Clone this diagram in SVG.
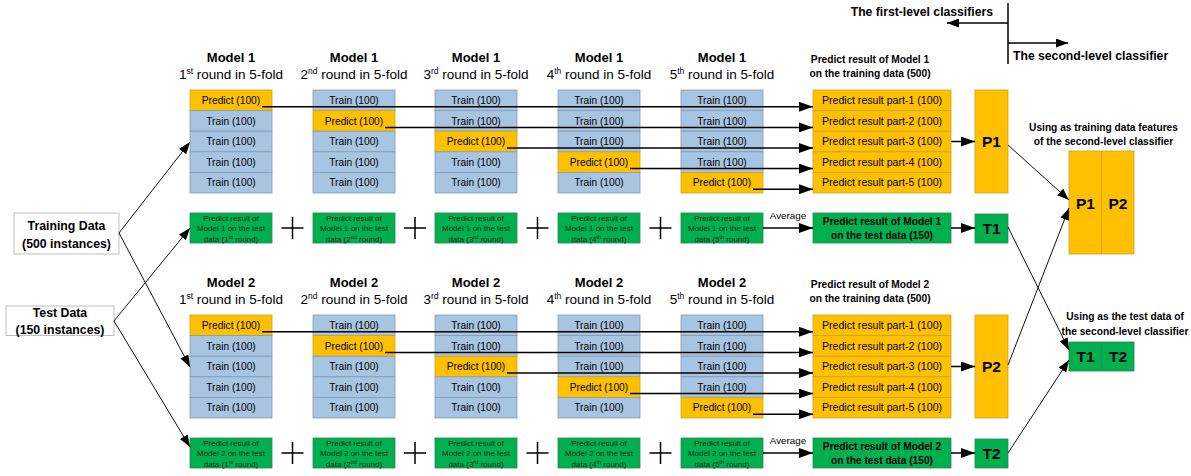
<svg xmlns="http://www.w3.org/2000/svg" width="1191" height="476" viewBox="0 0 1191 476">
<style>
text{font-family:"Liberation Sans",Arial,sans-serif;fill:#000}
.hd{font-size:13px;font-weight:bold;text-anchor:middle}
.sub{font-size:13.5px;text-anchor:middle}
.cell{font-size:10.2px;text-anchor:middle}
.res{font-size:10.6px;text-anchor:middle}
.gs{font-size:8px;text-anchor:middle;fill:#0b2a14}
.bl{font-size:10.2px;font-weight:bold;text-anchor:middle}
.big{font-size:15.5px;font-weight:bold;text-anchor:middle}
.data{font-size:12.3px;font-weight:bold;text-anchor:middle}
.leg{font-size:12.2px;font-weight:bold}
.tr{fill:#A7C4E0;stroke:#8599B2;stroke-width:0.8}
.pr{fill:#FFC000;stroke:#C9A227;stroke-width:0.8}
.gr{fill:#00B050;stroke:#2A8A4A;stroke-width:0.8}
.db{fill:#fff;stroke:#BFBFBF;stroke-width:1}
.ln{stroke:#000;stroke-width:1.5;fill:none}
.th{stroke:#111;stroke-width:1;fill:none}
</style>
<defs>
<marker id="ab" markerUnits="userSpaceOnUse" markerWidth="15" markerHeight="10" refX="14" refY="5" orient="auto"><path d="M0,0 L14,5 L0,10 z" fill="#000"/></marker>
<marker id="as" markerUnits="userSpaceOnUse" markerWidth="13" markerHeight="9" refX="12" refY="4.5" orient="auto"><path d="M0,0 L12,4.5 L0,9 z" fill="#000"/></marker>
</defs>

<g id="legend">
<text class="leg" x="993" y="15.5" text-anchor="end">The first-level classifiers</text>
<text class="leg" x="1013" y="60">The second-level classifier</text>
</g>

<g id="training-data"><rect class="db" x="14" y="213" width="105" height="41"/><text class="data" x="66.5" y="229.5">Training Data</text><text class="data" x="66.5" y="247.5">(500 instances)</text></g>
<g id="test-data"><rect class="db" x="6" y="306" width="108" height="29.5"/><text class="data" x="60" y="316.5">Test Data</text><text class="data" x="60" y="334">(150 instances)</text></g>

<g id="model1-section">
<g id="m1-fold1"><text class="hd" x="231" y="61.5">Model 1</text><text class="sub" x="231" y="79">1<tspan font-size="8.5" dy="-5">st</tspan><tspan dy="5"> round in 5-fold</tspan></text>
<rect class="pr" x="190" y="90" width="82" height="20.6"/><text class="cell" x="231" y="104">Predict (100)</text>
<rect class="tr" x="190" y="110.6" width="82" height="20.6"/><text class="cell" x="231" y="124.6">Train (100)</text>
<rect class="tr" x="190" y="131.2" width="82" height="20.6"/><text class="cell" x="231" y="145.2">Train (100)</text>
<rect class="tr" x="190" y="151.8" width="82" height="20.6"/><text class="cell" x="231" y="165.8">Train (100)</text>
<rect class="tr" x="190" y="172.4" width="82" height="20.6"/><text class="cell" x="231" y="186.4">Train (100)</text></g>
<g id="m1-fold2"><text class="hd" x="354" y="61.5">Model 1</text><text class="sub" x="354" y="79">2<tspan font-size="8.5" dy="-5">nd</tspan><tspan dy="5"> round in 5-fold</tspan></text>
<rect class="tr" x="313" y="90" width="82" height="20.6"/><text class="cell" x="354" y="104">Train (100)</text>
<rect class="pr" x="313" y="110.6" width="82" height="20.6"/><text class="cell" x="354" y="124.6">Predict (100)</text>
<rect class="tr" x="313" y="131.2" width="82" height="20.6"/><text class="cell" x="354" y="145.2">Train (100)</text>
<rect class="tr" x="313" y="151.8" width="82" height="20.6"/><text class="cell" x="354" y="165.8">Train (100)</text>
<rect class="tr" x="313" y="172.4" width="82" height="20.6"/><text class="cell" x="354" y="186.4">Train (100)</text></g>
<g id="m1-fold3"><text class="hd" x="476" y="61.5">Model 1</text><text class="sub" x="476" y="79">3<tspan font-size="8.5" dy="-5">rd</tspan><tspan dy="5"> round in 5-fold</tspan></text>
<rect class="tr" x="435" y="90" width="82" height="20.6"/><text class="cell" x="476" y="104">Train (100)</text>
<rect class="tr" x="435" y="110.6" width="82" height="20.6"/><text class="cell" x="476" y="124.6">Train (100)</text>
<rect class="pr" x="435" y="131.2" width="82" height="20.6"/><text class="cell" x="476" y="145.2">Predict (100)</text>
<rect class="tr" x="435" y="151.8" width="82" height="20.6"/><text class="cell" x="476" y="165.8">Train (100)</text>
<rect class="tr" x="435" y="172.4" width="82" height="20.6"/><text class="cell" x="476" y="186.4">Train (100)</text></g>
<g id="m1-fold4"><text class="hd" x="599" y="61.5">Model 1</text><text class="sub" x="599" y="79">4<tspan font-size="8.5" dy="-5">th</tspan><tspan dy="5"> round in 5-fold</tspan></text>
<rect class="tr" x="558" y="90" width="82" height="20.6"/><text class="cell" x="599" y="104">Train (100)</text>
<rect class="tr" x="558" y="110.6" width="82" height="20.6"/><text class="cell" x="599" y="124.6">Train (100)</text>
<rect class="tr" x="558" y="131.2" width="82" height="20.6"/><text class="cell" x="599" y="145.2">Train (100)</text>
<rect class="pr" x="558" y="151.8" width="82" height="20.6"/><text class="cell" x="599" y="165.8">Predict (100)</text>
<rect class="tr" x="558" y="172.4" width="82" height="20.6"/><text class="cell" x="599" y="186.4">Train (100)</text></g>
<g id="m1-fold5"><text class="hd" x="722" y="61.5">Model 1</text><text class="sub" x="722" y="79">5<tspan font-size="8.5" dy="-5">th</tspan><tspan dy="5"> round in 5-fold</tspan></text>
<rect class="tr" x="681" y="90" width="82" height="20.6"/><text class="cell" x="722" y="104">Train (100)</text>
<rect class="tr" x="681" y="110.6" width="82" height="20.6"/><text class="cell" x="722" y="124.6">Train (100)</text>
<rect class="tr" x="681" y="131.2" width="82" height="20.6"/><text class="cell" x="722" y="145.2">Train (100)</text>
<rect class="tr" x="681" y="151.8" width="82" height="20.6"/><text class="cell" x="722" y="165.8">Train (100)</text>
<rect class="pr" x="681" y="172.4" width="82" height="20.6"/><text class="cell" x="722" y="186.4">Predict (100)</text></g>

<g id="m1-train-result"><text class="bl" x="870" y="63">Predict result of Model 1</text><text class="bl" x="870" y="77">on the training data (500)</text>
<rect class="pr" x="813" y="90" width="138" height="20.6"/><text class="res" x="882" y="104">Predict result part-1 (100)</text>
<rect class="pr" x="813" y="110.6" width="138" height="20.6"/><text class="res" x="882" y="124.6">Predict result part-2 (100)</text>
<rect class="pr" x="813" y="131.2" width="138" height="20.6"/><text class="res" x="882" y="145.2">Predict result part-3 (100)</text>
<rect class="pr" x="813" y="151.8" width="138" height="20.6"/><text class="res" x="882" y="165.8">Predict result part-4 (100)</text>
<rect class="pr" x="813" y="172.4" width="138" height="20.6"/><text class="res" x="882" y="186.4">Predict result part-5 (100)</text></g>
<g id="P1"><rect class="pr" x="975" y="90" width="33" height="103"/><text class="big" x="991.5" y="147">P1</text></g>

<g id="m1-test1"><rect class="gr" x="190" y="213" width="82" height="30"/><text class="gs" x="231" y="221">Predict result of</text><text class="gs" x="231" y="231.3">Model 1 on the test</text><text class="gs" x="231" y="241.5">data (1<tspan font-size="5.5" dy="-3">st</tspan><tspan dy="3"> round)</tspan></text></g>
<g id="m1-test2"><rect class="gr" x="313" y="213" width="82" height="30"/><text class="gs" x="354" y="221">Predict result of</text><text class="gs" x="354" y="231.3">Model 1 on the test</text><text class="gs" x="354" y="241.5">data (2<tspan font-size="5.5" dy="-3">nd</tspan><tspan dy="3"> round)</tspan></text></g>
<g id="m1-test3"><rect class="gr" x="435" y="213" width="82" height="30"/><text class="gs" x="476" y="221">Predict result of</text><text class="gs" x="476" y="231.3">Model 1 on the test</text><text class="gs" x="476" y="241.5">data (3<tspan font-size="5.5" dy="-3">rd</tspan><tspan dy="3"> round)</tspan></text></g>
<g id="m1-test4"><rect class="gr" x="558" y="213" width="82" height="30"/><text class="gs" x="599" y="221">Predict result of</text><text class="gs" x="599" y="231.3">Model 1 on the test</text><text class="gs" x="599" y="241.5">data (4<tspan font-size="5.5" dy="-3">th</tspan><tspan dy="3"> round)</tspan></text></g>
<g id="m1-test5"><rect class="gr" x="681" y="213" width="82" height="30"/><text class="gs" x="722" y="221">Predict result of</text><text class="gs" x="722" y="231.3">Model 1 on the test</text><text class="gs" x="722" y="241.5">data (5<tspan font-size="5.5" dy="-3">th</tspan><tspan dy="3"> round)</tspan></text></g>
<g id="m1-test-result"><rect class="gr" x="813" y="213" width="138" height="30"/><text class="bl" x="882" y="225">Predict result of Model 1</text><text class="bl" x="882" y="239">on the test data (150)</text></g>
<g id="T1"><rect class="gr" x="975" y="214" width="33" height="29"/><text class="big" x="991.5" y="234">T1</text></g>
<g id="m1-plus" class="ln"><path d="M281.5,228h22M292.5,217v22M404,228h22M415,217v22M526.5,228h22M537.5,217v22M649.5,228h22M660.5,217v22"/></g>
</g>

<g id="model2-section" transform="translate(0,225)">
<g id="m2-fold1"><text class="hd" x="231" y="61.5">Model 2</text><text class="sub" x="231" y="79">1<tspan font-size="8.5" dy="-5">st</tspan><tspan dy="5"> round in 5-fold</tspan></text>
<rect class="pr" x="190" y="90" width="82" height="20.6"/><text class="cell" x="231" y="104">Predict (100)</text>
<rect class="tr" x="190" y="110.6" width="82" height="20.6"/><text class="cell" x="231" y="124.6">Train (100)</text>
<rect class="tr" x="190" y="131.2" width="82" height="20.6"/><text class="cell" x="231" y="145.2">Train (100)</text>
<rect class="tr" x="190" y="151.8" width="82" height="20.6"/><text class="cell" x="231" y="165.8">Train (100)</text>
<rect class="tr" x="190" y="172.4" width="82" height="20.6"/><text class="cell" x="231" y="186.4">Train (100)</text></g>
<g id="m2-fold2"><text class="hd" x="354" y="61.5">Model 2</text><text class="sub" x="354" y="79">2<tspan font-size="8.5" dy="-5">nd</tspan><tspan dy="5"> round in 5-fold</tspan></text>
<rect class="tr" x="313" y="90" width="82" height="20.6"/><text class="cell" x="354" y="104">Train (100)</text>
<rect class="pr" x="313" y="110.6" width="82" height="20.6"/><text class="cell" x="354" y="124.6">Predict (100)</text>
<rect class="tr" x="313" y="131.2" width="82" height="20.6"/><text class="cell" x="354" y="145.2">Train (100)</text>
<rect class="tr" x="313" y="151.8" width="82" height="20.6"/><text class="cell" x="354" y="165.8">Train (100)</text>
<rect class="tr" x="313" y="172.4" width="82" height="20.6"/><text class="cell" x="354" y="186.4">Train (100)</text></g>
<g id="m2-fold3"><text class="hd" x="476" y="61.5">Model 2</text><text class="sub" x="476" y="79">3<tspan font-size="8.5" dy="-5">rd</tspan><tspan dy="5"> round in 5-fold</tspan></text>
<rect class="tr" x="435" y="90" width="82" height="20.6"/><text class="cell" x="476" y="104">Train (100)</text>
<rect class="tr" x="435" y="110.6" width="82" height="20.6"/><text class="cell" x="476" y="124.6">Train (100)</text>
<rect class="pr" x="435" y="131.2" width="82" height="20.6"/><text class="cell" x="476" y="145.2">Predict (100)</text>
<rect class="tr" x="435" y="151.8" width="82" height="20.6"/><text class="cell" x="476" y="165.8">Train (100)</text>
<rect class="tr" x="435" y="172.4" width="82" height="20.6"/><text class="cell" x="476" y="186.4">Train (100)</text></g>
<g id="m2-fold4"><text class="hd" x="599" y="61.5">Model 2</text><text class="sub" x="599" y="79">4<tspan font-size="8.5" dy="-5">th</tspan><tspan dy="5"> round in 5-fold</tspan></text>
<rect class="tr" x="558" y="90" width="82" height="20.6"/><text class="cell" x="599" y="104">Train (100)</text>
<rect class="tr" x="558" y="110.6" width="82" height="20.6"/><text class="cell" x="599" y="124.6">Train (100)</text>
<rect class="tr" x="558" y="131.2" width="82" height="20.6"/><text class="cell" x="599" y="145.2">Train (100)</text>
<rect class="pr" x="558" y="151.8" width="82" height="20.6"/><text class="cell" x="599" y="165.8">Predict (100)</text>
<rect class="tr" x="558" y="172.4" width="82" height="20.6"/><text class="cell" x="599" y="186.4">Train (100)</text></g>
<g id="m2-fold5"><text class="hd" x="722" y="61.5">Model 2</text><text class="sub" x="722" y="79">5<tspan font-size="8.5" dy="-5">th</tspan><tspan dy="5"> round in 5-fold</tspan></text>
<rect class="tr" x="681" y="90" width="82" height="20.6"/><text class="cell" x="722" y="104">Train (100)</text>
<rect class="tr" x="681" y="110.6" width="82" height="20.6"/><text class="cell" x="722" y="124.6">Train (100)</text>
<rect class="tr" x="681" y="131.2" width="82" height="20.6"/><text class="cell" x="722" y="145.2">Train (100)</text>
<rect class="tr" x="681" y="151.8" width="82" height="20.6"/><text class="cell" x="722" y="165.8">Train (100)</text>
<rect class="pr" x="681" y="172.4" width="82" height="20.6"/><text class="cell" x="722" y="186.4">Predict (100)</text></g>

<g id="m2-train-result"><text class="bl" x="870" y="63">Predict result of Model 2</text><text class="bl" x="870" y="77">on the training data (500)</text>
<rect class="pr" x="813" y="90" width="138" height="20.6"/><text class="res" x="882" y="104">Predict result part-1 (100)</text>
<rect class="pr" x="813" y="110.6" width="138" height="20.6"/><text class="res" x="882" y="124.6">Predict result part-2 (100)</text>
<rect class="pr" x="813" y="131.2" width="138" height="20.6"/><text class="res" x="882" y="145.2">Predict result part-3 (100)</text>
<rect class="pr" x="813" y="151.8" width="138" height="20.6"/><text class="res" x="882" y="165.8">Predict result part-4 (100)</text>
<rect class="pr" x="813" y="172.4" width="138" height="20.6"/><text class="res" x="882" y="186.4">Predict result part-5 (100)</text></g>
<g id="P2"><rect class="pr" x="975" y="90" width="33" height="103"/><text class="big" x="991.5" y="147">P2</text></g>

<g id="m2-test1"><rect class="gr" x="190" y="213" width="82" height="30"/><text class="gs" x="231" y="221">Predict result of</text><text class="gs" x="231" y="231.3">Model 2 on the test</text><text class="gs" x="231" y="241.5">data (1<tspan font-size="5.5" dy="-3">st</tspan><tspan dy="3"> round)</tspan></text></g>
<g id="m2-test2"><rect class="gr" x="313" y="213" width="82" height="30"/><text class="gs" x="354" y="221">Predict result of</text><text class="gs" x="354" y="231.3">Model 2 on the test</text><text class="gs" x="354" y="241.5">data (2<tspan font-size="5.5" dy="-3">nd</tspan><tspan dy="3"> round)</tspan></text></g>
<g id="m2-test3"><rect class="gr" x="435" y="213" width="82" height="30"/><text class="gs" x="476" y="221">Predict result of</text><text class="gs" x="476" y="231.3">Model 2 on the test</text><text class="gs" x="476" y="241.5">data (3<tspan font-size="5.5" dy="-3">rd</tspan><tspan dy="3"> round)</tspan></text></g>
<g id="m2-test4"><rect class="gr" x="558" y="213" width="82" height="30"/><text class="gs" x="599" y="221">Predict result of</text><text class="gs" x="599" y="231.3">Model 2 on the test</text><text class="gs" x="599" y="241.5">data (4<tspan font-size="5.5" dy="-3">th</tspan><tspan dy="3"> round)</tspan></text></g>
<g id="m2-test5"><rect class="gr" x="681" y="213" width="82" height="30"/><text class="gs" x="722" y="221">Predict result of</text><text class="gs" x="722" y="231.3">Model 2 on the test</text><text class="gs" x="722" y="241.5">data (5<tspan font-size="5.5" dy="-3">th</tspan><tspan dy="3"> round)</tspan></text></g>
<g id="m2-test-result"><rect class="gr" x="813" y="213" width="138" height="30"/><text class="bl" x="882" y="225">Predict result of Model 2</text><text class="bl" x="882" y="239">on the test data (150)</text></g>
<g id="T2"><rect class="gr" x="975" y="214" width="33" height="29"/><text class="big" x="991.5" y="234">T2</text></g>
<g id="m2-plus" class="ln"><path d="M281.5,228h22M292.5,217v22M404,228h22M415,217v22M526.5,228h22M537.5,217v22M649.5,228h22M660.5,217v22"/></g>
</g>

<g id="second-level-train"><text class="bl" x="1103.5" y="131">Using as training data features</text><text class="bl" x="1103.5" y="145">of the second-level classifier</text>
<rect class="pr" x="1069" y="151" width="65" height="103"/><line x1="1101.5" y1="151" x2="1101.5" y2="254" stroke="#C9A227" stroke-width="0.8"/>
<text class="big" x="1085.5" y="209">P1</text><text class="big" x="1118" y="209">P2</text></g>
<g id="second-level-test"><text class="bl" x="1125" y="320">Using as the test data of</text><text class="bl" x="1125" y="334.5">the second-level classifier</text>
<rect class="gr" x="1069" y="342" width="65" height="29"/><line x1="1101.5" y1="342" x2="1101.5" y2="371" stroke="#2A8A4A" stroke-width="0.8"/>
<text class="big" x="1085.5" y="362">T1</text><text class="big" x="1118" y="362">T2</text></g>

<g id="connectors">
<path class="ln" d="M1008,3V64" stroke-width="2"/>
<path class="ln" d="M1008,23H947" marker-end="url(#as)"/>
<path class="ln" d="M1008,43H1068" marker-end="url(#as)"/>
<path class="th" d="M119,233L190,142" marker-end="url(#as)"/>
<path class="th" d="M119,233L190,367" marker-end="url(#as)"/>
<path class="th" d="M114,321L190,228" marker-end="url(#as)"/>
<path class="th" d="M114,321L190,447" marker-end="url(#as)"/>
<path class="ln" d="M262,106.8H813" marker-end="url(#ab)"/>
<path class="ln" d="M385,127.4H813" marker-end="url(#ab)"/>
<path class="ln" d="M507,148H813" marker-end="url(#ab)"/>
<path class="ln" d="M630,168.6H813" marker-end="url(#ab)"/>
<path class="ln" d="M753,189.2H813" marker-end="url(#ab)"/>
<path class="ln" d="M262,331.8H813" marker-end="url(#ab)"/>
<path class="ln" d="M385,352.4H813" marker-end="url(#ab)"/>
<path class="ln" d="M507,373H813" marker-end="url(#ab)"/>
<path class="ln" d="M630,393.6H813" marker-end="url(#ab)"/>
<path class="ln" d="M753,414.2H813" marker-end="url(#ab)"/>
<path class="ln" d="M763,228H813" marker-end="url(#ab)"/>
<text x="788" y="218.5" font-size="9.8" text-anchor="middle">Average</text>
<path class="ln" d="M763,453H813" marker-end="url(#ab)"/>
<text x="788" y="443.5" font-size="9.8" text-anchor="middle">Average</text>
<path class="ln" d="M951,141.5H975" marker-end="url(#ab)"/>
<path class="ln" d="M951,228H975" marker-end="url(#ab)"/>
<path class="ln" d="M951,366.5H975" marker-end="url(#ab)"/>
<path class="ln" d="M951,453H975" marker-end="url(#ab)"/>
<path class="th" d="M1008,145L1069,200" marker-end="url(#as)"/>
<path class="th" d="M1008,365L1069,208" marker-end="url(#as)"/>
<path class="th" d="M1008,227L1069,350" marker-end="url(#as)"/>
<path class="th" d="M1008,453L1069,360" marker-end="url(#as)"/>
</g>
</svg>
